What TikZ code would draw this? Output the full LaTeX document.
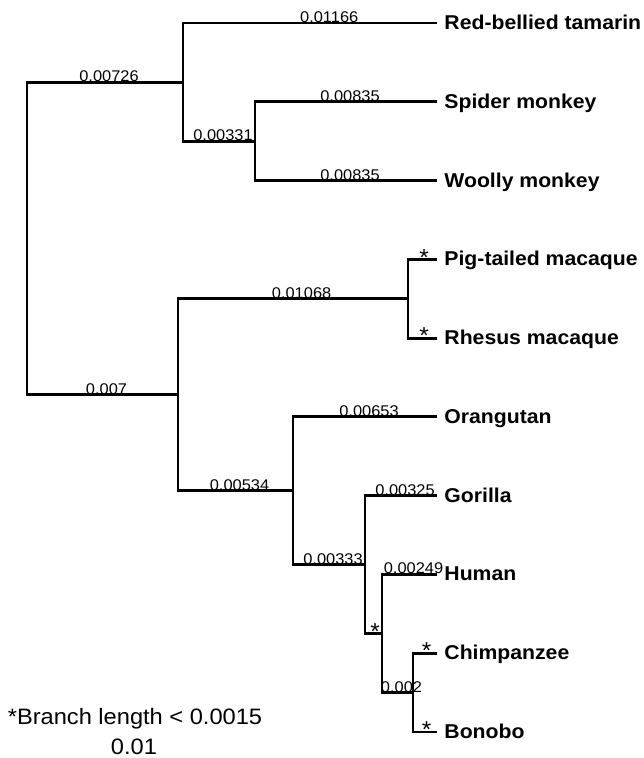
\documentclass[tikz,border=0pt]{standalone}
\usepackage{fontspec}
\setmainfont{Liberation Sans}[FakeStretch=1.06]

\begin{document}
\begin{tikzpicture}[x=1pt, y=-1pt, line width=2.9pt, line join=miter,
    len/.style={pos=0.75, anchor=base, inner sep=0pt, xshift=4pt, yshift=0.5pt,
      font=\fontsize{15.5}{18}\selectfont},
    short/.style={pos=0.75, anchor=base, inner sep=0pt, xshift=1.5pt, yshift=-5.7pt,
      font=\fontsize{23}{26}\selectfont},
    taxon/.style={anchor=base west, inner sep=0pt, xshift=6pt, yshift=-6.5pt,
      font=\fontsize{20}{24}\bfseries\selectfont},
    note/.style={anchor=base, inner sep=0pt, font=\fontsize{22.3}{26}\selectfont}]
  \useasboundingbox (0,0) rectangle (644,758);

  % Leaves, evenly spaced
  \foreach \n/\k/\t in {tam/0/Red-bellied tamarin, spi/1/Spider monkey,
      woo/2/Woolly monkey, pig/3/Pig-tailed macaque, rhe/4/Rhesus macaque,
      ora/5/Orangutan, gor/6/Gorilla, hum/7/Human, chi/8/Chimpanzee, bon/9/Bonobo}
  {
    \coordinate (\n) at (437,23+78.78*\k);
    \node[taxon] (\n-name) at (\n) {\t};
  }

  % Internal nodes (y = midpoint of children)
  \coordinate (root) at (27,238.4);
  \coordinate (nw)   at (183,82.1);
  \coordinate (nwb)  at (255,141.2);
  \coordinate (ow)   at (178,394.7);
  \coordinate (mac)  at (408,298.7);
  \coordinate (ape)  at (293,490.8);
  \coordinate (hom)  at (365,564.6);
  \coordinate (hc)   at (382,633.6);
  \coordinate (pan)  at (413,692.6);

  % Branches
  \draw (root) |- node[len]{0.00726} (nw);
  \draw (root) |- node[len]{0.007} (ow);
  \draw (nw) |- node[len, pos=0.78]{0.01166} (tam);
  \draw (nw) |- node[len]{0.00331} (nwb);
  \draw (nwb) |- node[len]{0.00835} (spi);
  \draw (nwb) |- node[len]{0.00835} (woo);
  \draw (ow) |- node[len, pos=0.76]{0.01068} (mac);
  \draw (ow) |- node[len]{0.00534} (ape);
  \draw (mac) |- node[short]{*} (pig);
  \draw (mac) |- node[short]{*} (rhe);
  \draw (ape) |- node[len]{0.00653} (ora);
  \draw (ape) |- node[len]{0.00333} (hom);
  \draw (hom) |- node[len]{0.00325} (gor);
  \draw (hom) |- node[short]{*} (hc);
  \draw (hc) |- node[len]{0.00249} (hum);
  \draw (hc) |- node[len]{0.002} (pan);
  \draw (pan) |- node[short]{*} (chi);
  \draw (pan) |- node[short]{*} (bon);

  % Key
  \node[note] (key) at (135,724) {*Branch length < 0.0015};
  \node[note] (unit) at (134,754) {0.01};
\end{tikzpicture}
\end{document}
